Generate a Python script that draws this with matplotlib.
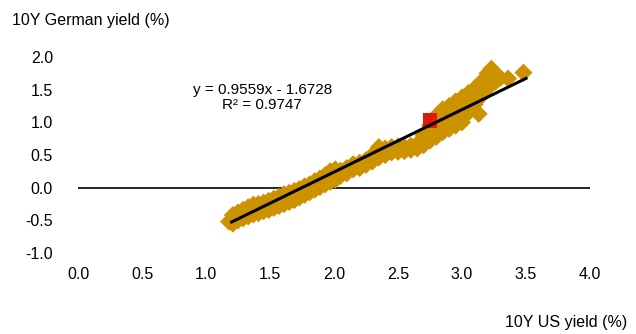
import matplotlib
matplotlib.use("Agg")
import matplotlib.pyplot as plt
import numpy as np

plt.rcParams['font.family'] = ['Liberation Sans', 'DejaVu Sans']

# Scatter data: 10Y US yield (x) vs 10Y German yield (y)
us_yield = [1.18, 1.21, 1.21, 1.25, 1.25, 1.29, 1.29, 1.33, 1.33, 1.37, 1.37, 1.41, 1.41,
            1.45, 1.45, 1.49, 1.49, 1.53, 1.53, 1.57, 1.57, 1.61, 1.61, 1.65, 1.65,
            1.69, 1.69, 1.73, 1.73, 1.77, 1.77, 1.81, 1.81, 1.85, 1.85, 1.89, 1.89,
            1.93, 1.93, 1.97, 1.97, 2.01, 2.01, 2.05, 2.05, 2.10, 2.10, 2.15, 2.15,
            2.20, 2.20, 2.25, 2.25, 2.30, 2.30, 2.35, 2.35, 2.40, 2.40, 2.45, 2.45,
            2.50, 2.50, 2.55, 2.55, 2.60, 2.60, 2.65, 2.65, 2.70, 2.70, 2.75, 2.75,
            2.78, 2.80, 2.80, 2.83, 2.85, 2.85, 2.88, 2.90, 2.90, 2.93, 2.95, 2.95,
            2.98, 3.00, 3.00, 3.02, 3.05, 3.05, 3.07, 3.10, 3.10, 3.12, 3.13, 3.15,
            3.15, 3.18, 3.20, 3.20, 3.23, 3.26, 3.26, 3.30, 3.36, 3.48]
de_yield = [-0.52, -0.55, -0.42, -0.50, -0.38, -0.47, -0.34, -0.44, -0.30, -0.41, -0.26, -0.39, -0.25,
            -0.36, -0.23, -0.34, -0.20, -0.31, -0.17, -0.28, -0.14, -0.25, -0.10, -0.22, -0.08,
            -0.19, -0.05, -0.15, -0.02, -0.11, 0.02, -0.07, 0.05, -0.03, 0.10, 0.01, 0.14,
            0.05, 0.19, 0.09, 0.25, 0.12, 0.28, 0.18, 0.26, 0.22, 0.30, 0.28, 0.36,
            0.30, 0.38, 0.35, 0.42, 0.40, 0.50, 0.46, 0.62, 0.50, 0.60, 0.54, 0.62,
            0.55, 0.63, 0.56, 0.62, 0.58, 0.64, 0.60, 0.67, 0.65, 0.80, 0.72, 0.95,
            0.92, 0.78, 1.10, 1.00, 0.85, 1.20, 1.05, 0.90, 1.25, 1.12, 0.95, 1.32,
            1.15, 1.00, 1.38, 1.25, 1.15, 1.45, 1.35, 1.28, 1.52, 1.42, 1.13, 1.40,
            1.62, 1.62, 1.52, 1.75, 1.82, 1.62, 1.72, 1.68, 1.67, 1.76]

# Current point (highlighted)
current_us = [2.75]
current_de = [1.03]

# Trendline (as displayed)
slope = 0.9559
intercept = -1.6728
r_squared = 0.9747
trend_x = [1.2, 3.5]

x_ticks = [0.0, 0.5, 1.0, 1.5, 2.0, 2.5, 3.0, 3.5, 4.0]
y_ticks = [-1.0, -0.5, 0.0, 0.5, 1.0, 1.5, 2.0]

W, H = 636, 334
fig = plt.figure(figsize=(W / 100, H / 100), dpi=100)
ax = fig.add_axes([78 / W, (H - 253) / H, (590 - 78) / W, (253 - 57) / H])

ax.set_xlim(0, 4)
ax.set_ylim(-1, 2)

ax.axhline(0, color='black', lw=1.2, zorder=1)

ax.scatter(us_yield, de_yield, marker='D', s=85, color='#CC9200', edgecolors='none', zorder=2)
ax.scatter(current_us, current_de, marker='s', s=110, color='#E2180A', edgecolors='none', zorder=3)

tx = np.array(trend_x)
ax.plot(tx, slope * tx + intercept, color='black', lw=2.2, zorder=4)

ax.text(1.44, 1.38, f"y = {slope:.4f}x - {abs(intercept):.4f}\nR² = {r_squared:.4f}",
        ha='center', va='center', fontsize=11, linespacing=1.15)

ax.set_xticks(x_ticks)
ax.set_yticks(y_ticks)
ax.set_xticklabels([f"{v:.1f}" for v in x_ticks])
ax.set_yticklabels([f"{v:.1f}" for v in y_ticks])
ax.tick_params(axis='both', length=0, labelsize=11.5)
ax.tick_params(axis='y', pad=18)
ax.tick_params(axis='x', pad=10)
for s in ax.spines.values():
    s.set_visible(False)

fig.text(12 / W, 1 - 20 / H, "10Y German yield (%)", ha='left', va='center', fontsize=11.5)
fig.text(627 / W, 1 - 322 / H, "10Y US yield (%)", ha='right', va='center', fontsize=11.5)

fig.savefig("out.png", dpi=100)
